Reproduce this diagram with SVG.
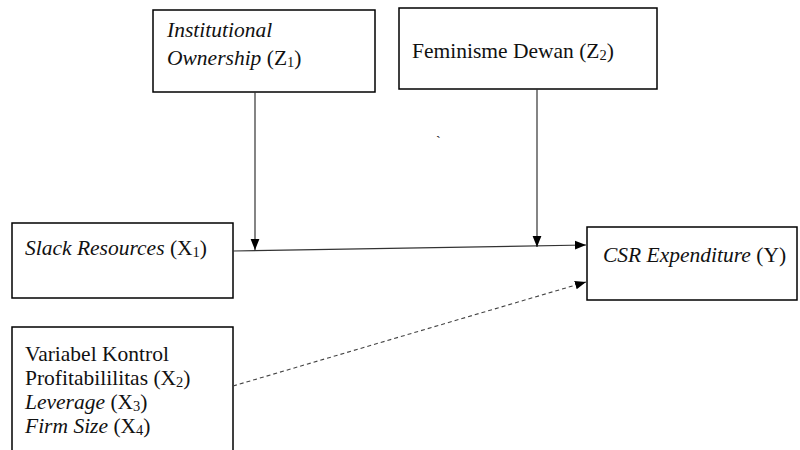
<svg xmlns="http://www.w3.org/2000/svg" width="800" height="450" viewBox="0 0 800 450">
<style>
.box{fill:#fff;stroke:#000;stroke-width:1.5}
.t{font-family:"Liberation Serif","Times New Roman",serif;font-size:21.5px;fill:#111}
.i{font-style:italic}
.sub{font-size:14.5px}
.ln{stroke:#333;stroke-width:1.2;fill:none}
.dash{stroke:#444;stroke-width:1.1;fill:none;stroke-dasharray:4 3}
</style>
<defs>
<marker id="ah" viewBox="0 0 10 10" refX="10" refY="5" markerWidth="11" markerHeight="11" markerUnits="userSpaceOnUse" orient="auto">
<path d="M0,1 L10,5 L0,9 Z" fill="#000"/>
</marker>
</defs>
<rect width="800" height="450" fill="#fff"/>
<g id="z1">
<rect class="box" x="153" y="10" width="222" height="82"/>
<text class="t" x="167" y="37"><tspan class="i">Institutional</tspan></text>
<text class="t" x="167" y="65"><tspan class="i">Ownership</tspan> (Z<tspan class="sub" dy="2">1</tspan><tspan dy="-2">)</tspan></text>
</g>
<g id="z2">
<rect class="box" x="399" y="8" width="258" height="81"/>
<text class="t" x="412" y="58">Feminisme Dewan (Z<tspan class="sub" dy="2">2</tspan><tspan dy="-2">)</tspan></text>
</g>
<g id="x1">
<rect class="box" x="12" y="223" width="221" height="75"/>
<text class="t" x="25" y="255"><tspan class="i">Slack Resources</tspan> (X<tspan class="sub" dy="2">1</tspan><tspan dy="-2">)</tspan></text>
</g>
<g id="y">
<rect class="box" x="587" y="227" width="210" height="73"/>
<text class="t" x="603" y="262"><tspan class="i">CSR Expenditure</tspan> (Y)</text>
</g>
<g id="control">
<rect class="box" x="12" y="327" width="221" height="140"/>
<text class="t" x="25" y="361">Variabel Kontrol</text>
<text class="t" x="25" y="385">Profitabililitas (X<tspan class="sub" dy="2">2</tspan><tspan dy="-2">)</tspan></text>
<text class="t" x="25" y="409"><tspan class="i">Leverage</tspan> (X<tspan class="sub" dy="2">3</tspan><tspan dy="-2">)</tspan></text>
<text class="t" x="25" y="433"><tspan class="i">Firm Size</tspan> (X<tspan class="sub" dy="2">4</tspan><tspan dy="-2">)</tspan></text>
</g>
<g id="connectors">
<line class="ln" x1="233" y1="251" x2="586" y2="245" marker-end="url(#ah)"/>
<line class="ln" x1="255" y1="92" x2="255" y2="250" marker-end="url(#ah)"/>
<line class="ln" x1="537" y1="89" x2="537" y2="247" marker-end="url(#ah)"/>
<line class="dash" x1="233" y1="386" x2="586" y2="282" marker-end="url(#ah)"/>
</g>
<text class="t" x="436" y="146" style="font-size:14px">`</text>
</svg>
